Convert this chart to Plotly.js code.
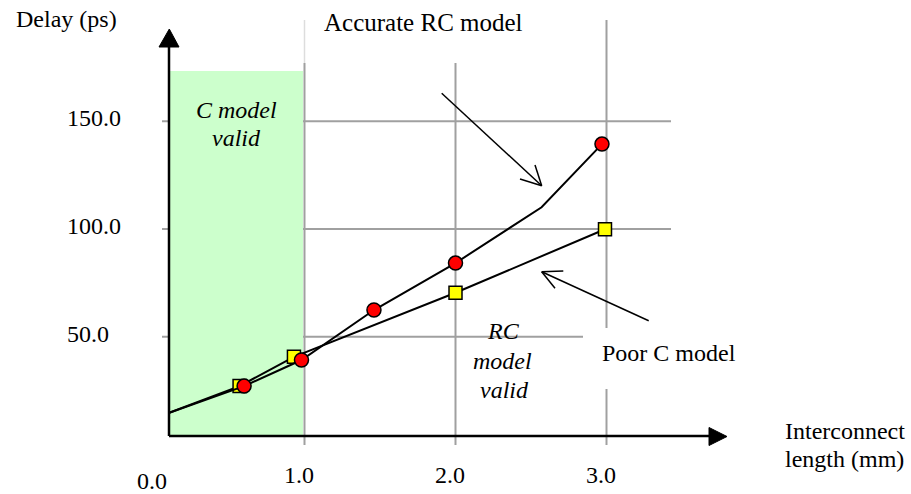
<!DOCTYPE html>
<html>
<head>
<meta charset="utf-8">
<script src="https://cdn.plot.ly/plotly-3.0.1.min.js"></script>
<style>html,body{margin:0;padding:0;background:#fff;}#chart{width:911px;height:494px;}</style>
</head>
<body>
<div id="chart"></div>
<script>
// ---- data (length in mm, delay in ps) ----
const lineStart = [0.10, 14.6];           // common origin of both curves
const rcLength = [0.60, 0.98, 1.46, 2.00, 2.97];
const rcDelay  = [27.1, 39.2, 62.4, 84.2, 139.4];
const rcBend   = [2.57, 110.1];           // unmarked bend of the RC curve
const cLength  = [0.57, 0.93, 2.00, 2.99];
const cDelay   = [27.1, 40.7, 70.4, 99.9];
const yTickVals = [50, 100, 150];
const yTickText = ["50.0", "100.0", "150.0"];
const xTickVals = [0, 1, 2, 3];
const xTickText = ["0.0", "1.0", "2.0", "3.0"];

// ---- pixel helpers for decorations ----
const X0 = 153.5, XS = 151, Y0 = 444.5, YS = 2.155;
const X = p => (p - X0) / XS;
const Y = p => (Y0 - p) / YS;
const FONT = {family: "'Liberation Serif', 'Times New Roman', serif", size: 24, color: "#000"};
const GRID = "#a0a0a0";

const rcLineX = [lineStart[0], ...rcLength.slice(0, 4), rcBend[0], rcLength[4]];
const rcLineY = [lineStart[1], ...rcDelay.slice(0, 4), rcBend[1], rcDelay[4]];
const cLineX = [lineStart[0], ...cLength];
const cLineY = [lineStart[1], ...cDelay];

const traces = [
  {x: cLineX, y: cLineY, mode: "lines", line: {color: "#000", width: 2}, hoverinfo: "skip"},
  {x: cLength, y: cDelay, mode: "markers", marker: {symbol: "square", size: 13, color: "#ffff00", line: {color: "#000", width: 1.5}}},
  {x: rcLineX, y: rcLineY, mode: "lines", line: {color: "#000", width: 2}, hoverinfo: "skip"},
  {x: rcLength, y: rcDelay, mode: "markers", marker: {symbol: "circle", size: 14, color: "#ff0000", line: {color: "#000", width: 1.5}}}
];

const shapes = [];
function seg(x0, y0, x1, y1, color, width, layer) {
  shapes.push({type: "line", xref: "x", yref: "y", x0: x0, y0: y0, x1: x1, y1: y1,
    line: {color: color, width: width}, layer: layer || "below"});
}
// horizontal grid lines
seg(X(162), 150, X(671), 150, GRID, 2);
seg(X(162), 100, X(671), 100, GRID, 2);
seg(X(162), 50, X(583), 50, GRID, 2);
// vertical grid lines
seg(1, Y(20), 1, Y(63), "#dddddd", 1.5);
seg(1, Y(63), 1, Y(445), GRID, 2);
seg(2, Y(63), 2, Y(445), GRID, 2);
seg(3, Y(20), 3, Y(328), GRID, 2);
seg(3, Y(389), 3, Y(445), GRID, 2);
// green "C model valid" region
shapes.push({type: "rect", xref: "x", yref: "y", x0: X(170), x1: X(303), y0: Y(436), y1: Y(71),
  fillcolor: "#ccffcc", line: {width: 0}, layer: "below"});
// axes with arrowheads
seg(X(169), Y(436), X(169), Y(46), "#000", 2.5);
seg(X(169), Y(436), X(710), Y(436), "#000", 2.5);
shapes.push({type: "path", xref: "x", yref: "y", layer: "above",
  path: `M ${X(159)} ${Y(47)} L ${X(179)} ${Y(47)} L ${X(169.3)} ${Y(29)} Z`, fillcolor: "#000", line: {color: "#000", width: 1}});
shapes.push({type: "path", xref: "x", yref: "y", layer: "above",
  path: `M ${X(709)} ${Y(427.5)} L ${X(709)} ${Y(445.5)} L ${X(727)} ${Y(436.5)} Z`, fillcolor: "#000", line: {color: "#000", width: 1}});
// pointer arrows
seg(X(441.7), Y(93.3), X(541.7), Y(185.7), "#000", 1.5, "above");
seg(X(541.7), Y(185.7), X(520), Y(179), "#000", 1.5, "above");
seg(X(541.7), Y(185.7), X(535), Y(165), "#000", 1.5, "above");
seg(X(648.7), Y(320.7), X(541.7), Y(271.7), "#000", 1.5, "above");
seg(X(541.7), Y(271.7), X(563.3), Y(271), "#000", 1.5, "above");
seg(X(541.7), Y(271.7), X(555), Y(288.3), "#000", 1.5, "above");

const annotations = [];
function txt(x, y, text, xanchor, italic, size) {
  const f = Object.assign({}, FONT, italic ? {style: "italic"} : {});
  if (size) f.size = size;
  annotations.push({x: x, y: y, xref: "x", yref: "y", text: text, showarrow: false,
    xanchor: xanchor || "center", yanchor: "middle", borderpad: 0, font: f});
}
yTickVals.forEach((v, i) => txt(X(66), v + 3 / YS, yTickText[i], "left"));
xTickVals.forEach((v, i) => txt(v - (i === 0 ? 1.5 : 6) / XS, Y(i === 0 ? 481 : 475), xTickText[i], "center"));
txt(X(15), Y(19), "Delay (ps)", "left");
txt(X(323), Y(22), "Accurate RC model", "left", false, 25);
txt(X(236), Y(110), "C model", "center", true);
txt(X(236), Y(138), "valid", "center", true);
txt(X(503), Y(331), "RC", "center", true);
txt(X(502), Y(361), "model", "center", true);
txt(X(504), Y(390), "valid", "center", true);
txt(X(601), Y(353), "Poor C model", "left");
txt(X(784), Y(431), "Interconnect", "left");
txt(X(784), Y(459), "length (mm)", "left");

const layout = {
  width: 911, height: 494, autosize: false,
  margin: {l: 0, r: 0, t: 0, b: 0, pad: 0},
  paper_bgcolor: "#fff", plot_bgcolor: "#fff",
  showlegend: false,
  xaxis: {range: [X(0), X(911)], visible: false, fixedrange: true},
  yaxis: {range: [Y(494), Y(0)], visible: false, fixedrange: true},
  shapes: shapes, annotations: annotations
};
Plotly.newPlot("chart", traces, layout, {displayModeBar: false, staticPlot: true});
</script>
</body>
</html>
